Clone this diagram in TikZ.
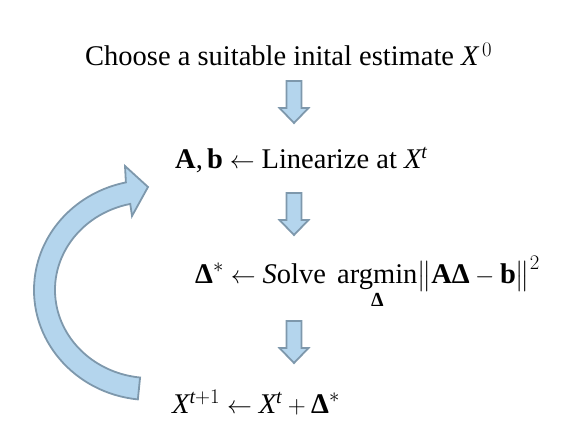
\documentclass[tikz,border=0pt]{standalone}
\usepackage{amsmath}
\usepackage{fontspec}
\setmainfont{Liberation Serif}
\usetikzlibrary{calc}

\definecolor{arrowfill}{RGB}{180,213,237}
\definecolor{arrowline}{RGB}{126,152,172}

\begin{document}
\begin{tikzpicture}[
        x=1pt, y=-1pt,
        stepnode/.style={anchor=base west, inner sep=0pt, font=\fontsize{28.5}{34}\selectfont},
        blockarrow/.style={fill=arrowfill, draw=arrowline, line width=1.8pt, line join=miter},
        downarrow/.pic={\path[blockarrow] (-7.5,-21) -- (7.5,-21) -- (7.5,6) -- (14.5,6) -- (0,21) -- (-14.5,6) -- (-7.5,6) -- cycle;}
    ]
    \useasboundingbox (0,0) rectangle (578,436);

    \node [stepnode] (Init) at (85,66) {Choose a suitable inital estimate $\mathit{X}^{\,0}$};
    \node [stepnode] (Lin) at (175,168) {$\mathbf{A}\text{,}\,\mathbf{b}\leftarrow\text{Linearize at }\mathit{X}^{\mathit{t}}$};
    \node [stepnode] (Solve) at (195,283) {$\text{\bfseries Δ}^{*}\leftarrow\textit{S}\text{olve }\mathop{\text{argmin}}\limits_{\text{\bfseries Δ}}\bigl\|\mathbf{A}\text{\bfseries Δ}-\mathbf{b}\bigr\|^{2}$};
    \node [stepnode] (Update) at (172,413) {$\mathit{X}^{\mathit{t}+1}\leftarrow\mathit{X}^{\mathit{t}}+\text{\bfseries Δ}^{*}$};

    % block arrows between the steps
    \pic at (294,102) {downarrow};
    \pic at (294,214) {downarrow};
    \pic at (294,342) {downarrow};

    % loop back from the update to the linearization
    \coordinate (LoopC) at (150,290);
    \path[blockarrow] ($(LoopC)+(96:116 and 110)$) arc[start angle=96, end angle=258, x radius=116, y radius=110]
        -- ($(LoopC)+(-25,-124)$) -- ($(LoopC)+(-2,-103)$) -- ($(LoopC)+(-18,-74)$) -- ($(LoopC)+(258:95 and 88)$)
        arc[start angle=258, end angle=96, x radius=95, y radius=88] -- cycle;

\end{tikzpicture}
\end{document}
